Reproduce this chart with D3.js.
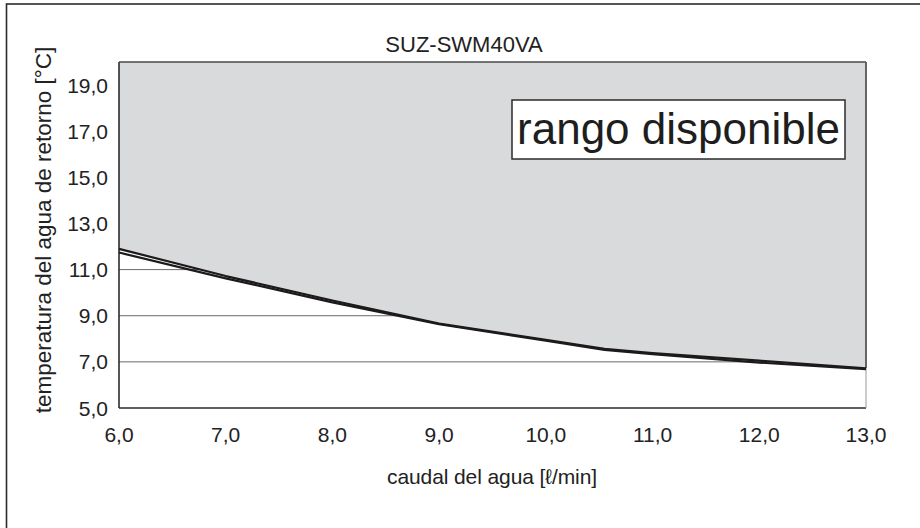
<!DOCTYPE html>
<html>
<head>
<meta charset="utf-8">
<script src="https://cdn.jsdelivr.net/npm/d3@7"></script>
<style>
  html, body { margin: 0; padding: 0; background: #fff; }
  svg { display: block; font-family: "Liberation Sans", Arial, sans-serif; }
</style>
</head>
<body>
<svg id="chart" width="920" height="528"></svg>
<script>
// Operating range of return water temperature vs. water flow
const title = "SUZ-SWM40VA";
const xTicks = [6, 7, 8, 9, 10, 11, 12, 13];
const yTicks = [5, 7, 9, 11, 13, 15, 17, 19];
const gridValues = [7, 9, 11];

// Two boundary curves (upper and lower trace of the limit line)
const flowUpper = [6.0, 7.0, 8.0, 9.0, 10.0, 10.55, 11.0, 12.0, 13.0];
const tempUpper = [11.9, 10.72, 9.66, 8.66, 7.95, 7.56, 7.38, 7.05, 6.72];
const flowLower = [6.0, 7.0, 8.0, 9.0, 10.0, 10.55, 11.0, 12.0, 13.0];
const tempLower = [11.74, 10.62, 9.58, 8.63, 7.92, 7.52, 7.33, 6.97, 6.68];

const rangeLabel = "rango disponible";
const xTitle = "caudal del agua [ℓ/min]";
const yTitle = "temperatura del agua de retorno [°C]";

const svg = d3.select("#chart");
const m = { left: 119, top: 62, right: 866, bottom: 408 };

const x = d3.scaleLinear().domain([6, 13]).range([m.left, m.right]);
const y = d3.scaleLinear().domain([5, 20]).range([m.bottom, m.top]);
const fmt = v => d3.format(".1f")(v).replace(".", ",");

// outer frame (runs off the right and bottom edges)
svg.append("rect")
  .attr("x", 6.5).attr("y", 4).attr("width", 1000).attr("height", 1000)
  .attr("fill", "none").attr("stroke", "#2b2b2b").attr("stroke-width", 1.6);

// horizontal grid lines
svg.append("g").selectAll("line").data(gridValues).join("line")
  .attr("x1", x(6)).attr("x2", x(13))
  .attr("y1", d => y(d)).attr("y2", d => y(d))
  .attr("stroke", "#6a6a6a").attr("stroke-width", 1);

const upper = flowUpper.map((f, i) => [f, tempUpper[i]]);
const lower = flowLower.map((f, i) => [f, tempLower[i]]);

// available range: shaded region above the limit line
const area = d3.area()
  .x(d => x(d[0]))
  .y0(y(20))
  .y1(d => y(d[1]));
svg.append("path").datum(upper)
  .attr("d", area)
  .attr("fill", "#d9dadc");

// plot borders
svg.append("line").attr("x1", x(6)).attr("x2", x(6)).attr("y1", y(20)).attr("y2", y(5))
  .attr("stroke", "#2b2b2b").attr("stroke-width", 1.6);
svg.append("line").attr("x1", x(6)).attr("x2", x(13)).attr("y1", y(5)).attr("y2", y(5))
  .attr("stroke", "#2b2b2b").attr("stroke-width", 1.6);
svg.append("line").attr("x1", x(6)).attr("x2", x(13)).attr("y1", y(20)).attr("y2", y(20))
  .attr("stroke", "#4a4a4a").attr("stroke-width", 1.6);
svg.append("line").attr("x1", x(13)).attr("x2", x(13)).attr("y1", y(20)).attr("y2", y(tempUpper[tempUpper.length - 1]))
  .attr("stroke", "#555").attr("stroke-width", 1.8);
svg.append("line").attr("x1", x(13)).attr("x2", x(13)).attr("y1", y(tempUpper[tempUpper.length - 1])).attr("y2", y(5))
  .attr("stroke", "#999").attr("stroke-width", 1);

// limit curves
const line = d3.line().x(d => x(d[0])).y(d => y(d[1]));
[upper, lower].forEach(pts => {
  svg.append("path").datum(pts)
    .attr("d", line)
    .attr("fill", "none")
    .attr("stroke", "#1c1a1a")
    .attr("stroke-width", 2.2)
    .attr("stroke-linejoin", "round");
});

// axis tick labels
svg.append("g").selectAll("text").data(yTicks).join("text")
  .attr("x", 108).attr("y", d => y(d) + 7.5)
  .attr("text-anchor", "end")
  .attr("font-size", 21).attr("fill", "#222")
  .text(fmt);

svg.append("g").selectAll("text").data(xTicks).join("text")
  .attr("x", d => x(d)).attr("y", 442)
  .attr("text-anchor", "middle")
  .attr("font-size", 21).attr("fill", "#222")
  .text(fmt);

// titles
svg.append("text")
  .attr("x", 464).attr("y", 52)
  .attr("text-anchor", "middle")
  .attr("font-size", 22).attr("fill", "#222")
  .text(title);

svg.append("text")
  .attr("x", 492).attr("y", 484)
  .attr("text-anchor", "middle")
  .attr("font-size", 21).attr("fill", "#222")
  .attr("letter-spacing", -0.1)
  .text(xTitle);

svg.append("text")
  .attr("transform", "translate(51,230) rotate(-90)")
  .attr("text-anchor", "middle")
  .attr("font-size", 22.5).attr("fill", "#222")
  .text(yTitle);

// range label box
const lbl = svg.append("g");
lbl.append("rect")
  .attr("x", 512).attr("y", 100).attr("width", 333).attr("height", 59)
  .attr("fill", "#fff").attr("stroke", "#2b2b2b").attr("stroke-width", 1.5);
lbl.append("text")
  .attr("x", 678.5).attr("y", 144)
  .attr("text-anchor", "middle")
  .attr("font-size", 44).attr("fill", "#1e1e1e")
  .text(rangeLabel);
</script>
</body>
</html>
